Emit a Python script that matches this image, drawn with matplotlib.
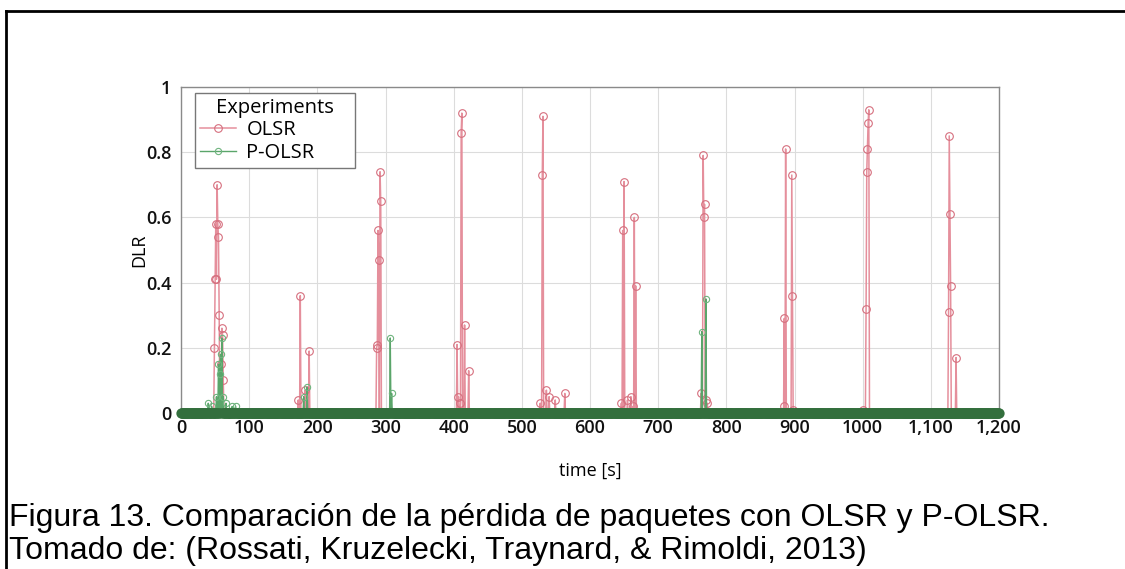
import numpy as np
import matplotlib
matplotlib.use("Agg")
import matplotlib.pyplot as plt
from matplotlib.lines import Line2D

# ---- data ----
xticks = [0, 100, 200, 300, 400, 500, 600, 700, 800, 900, 1000, 1100, 1200]
xticklabels = ["0", "100", "200", "300", "400", "500", "600", "700", "800",
               "900", "1000", "1,100", "1,200"]
yticks = [0, 0.2, 0.4, 0.6, 0.8, 1.0]
yticklabels = ["0", "0.2", "0.4", "0.6", "0.8", "1"]

# OLSR non-zero samples (time [s], DLR)
olsr_t = [49, 50, 51, 52, 53, 54, 55, 56, 58, 60, 61, 62,
          172, 175, 182, 188,
          287, 288, 289, 290, 292, 293,
          405, 407, 410, 411, 412, 416, 422,
          527, 530, 531, 536, 540, 549, 563,
          646, 648, 650, 655, 660, 663, 665, 667,
          763, 766, 767, 768, 770, 772,
          884, 885, 887, 896, 897, 898,
          1000, 1005, 1006, 1007, 1008, 1009,
          1126, 1127, 1128, 1129, 1137]
olsr_v = [0.20, 0.41, 0.58, 0.41, 0.70, 0.58, 0.54, 0.30, 0.15, 0.26, 0.24, 0.10,
          0.04, 0.36, 0.07, 0.19,
          0.20, 0.21, 0.56, 0.47, 0.74, 0.65,
          0.21, 0.05, 0.03, 0.86, 0.92, 0.27, 0.13,
          0.03, 0.73, 0.91, 0.07, 0.05, 0.04, 0.06,
          0.03, 0.56, 0.71, 0.04, 0.05, 0.02, 0.60, 0.39,
          0.06, 0.79, 0.60, 0.64, 0.04, 0.03,
          0.02, 0.29, 0.81, 0.73, 0.36, 0.01,
          0.01, 0.32, 0.74, 0.81, 0.89, 0.93,
          0.31, 0.85, 0.61, 0.39, 0.17]

# P-OLSR non-zero samples (time [s], DLR)
polsr_t = [40, 45, 52, 55, 57, 58, 60, 62, 66, 75, 80,
           180, 185,
           307, 309,
           764, 770]
polsr_v = [0.03, 0.02, 0.05, 0.15, 0.12, 0.18, 0.23, 0.05, 0.03, 0.02, 0.02,
           0.05, 0.08,
           0.23, 0.06,
           0.25, 0.35]

time_s = np.arange(0, 1201, 1)
olsr = np.zeros(time_s.size)
olsr[olsr_t] = olsr_v
polsr = np.zeros(time_s.size)
polsr[polsr_t] = polsr_v

# ---- figure ----
W, H = 1125, 569
fig = plt.figure(figsize=(W / 100, H / 100), dpi=100)
fig.patch.set_facecolor("white")

ax = fig.add_axes([181 / W, 1 - 413 / H, (999 - 181) / W, (413 - 87) / H])

red_line = "#e58f9c"
red_mark = "#d66f7e"
green_line = "#5aa56a"
green_mark = "#6fb47e"
band_green = "#336f3d"

ax.plot(time_s, olsr, "-", color=red_line, lw=1.1, marker="o", ms=5.5,
        mfc="none", mec=red_mark, mew=0.8, label="OLSR", zorder=3)
ax.plot(time_s, polsr, "-", color=green_line, lw=1.0, marker="o", ms=4.5,
        mfc="none", mec=green_mark, mew=0.8, label="P-OLSR", zorder=4)
zero = polsr == 0
ax.plot(time_s[zero], polsr[zero], "o", ms=6.0, mfc="none", mec=band_green,
        mew=1.4, zorder=5, clip_on=False)

ax.set_xlim(0, 1200)
ax.set_ylim(0, 1)
ax.set_xticks(xticks)
ax.set_xticklabels(xticklabels)
ax.set_yticks(yticks)
ax.set_yticklabels(yticklabels)
ax.grid(True, color="#dcdcdc", lw=0.8)
ax.set_axisbelow(True)
for s in ax.spines.values():
    s.set_color("#8a8a8a")
    s.set_linewidth(1.0)
ax.tick_params(axis="x", length=0, pad=4, labelsize=13, labelcolor="#111111")
ax.tick_params(axis="y", length=0, pad=7, labelsize=13, labelcolor="#111111")
for lab in ax.get_xticklabels() + ax.get_yticklabels():
    lab.set_fontfamily("Open Sans")
    lab.set_fontweight("semibold")

ax.set_xlabel("time [s]", fontsize=13, family="Open Sans")
ax.set_ylabel("DLR", fontsize=13, family="Open Sans")
ax.xaxis.set_label_coords(0.5, -0.15)
ax.yaxis.set_label_coords(-0.040, 0.5)

leg = ax.legend(title="Experiments", loc="upper left",
                bbox_to_anchor=(14 / 818, (413 - 173) / 326, 160 / 818, 80 / 326),
                mode="expand", fancybox=False,
                edgecolor="#777777", framealpha=1, fontsize=14.5,
                title_fontsize=14.5, handlelength=1.8, borderpad=0.25,
                labelspacing=0.12, handletextpad=0.5, borderaxespad=0.0)
for t in leg.get_texts():
    t.set_fontfamily("Open Sans")
leg.get_title().set_fontfamily("Open Sans")
leg.get_frame().set_linewidth(1.0)

# outer border (top and left)
fig.add_artist(Line2D([6 / W, 1.0], [1 - 11 / H, 1 - 11 / H],
                      transform=fig.transFigure, color="black", lw=2.0))
fig.add_artist(Line2D([6 / W, 6 / W], [1 - 11 / H, 0.0],
                      transform=fig.transFigure, color="black", lw=2.0))

# caption
fig.text(9 / W, 1 - 518 / H,
         "Figura 13. Comparación de la pérdida de paquetes con OLSR y P-OLSR.",
         fontsize=23, family="Liberation Sans", va="center", ha="left")
fig.text(9 / W, 1 - 551 / H,
         "Tomado de: (Rossati, Kruzelecki, Traynard, & Rimoldi, 2013)",
         fontsize=23, family="Liberation Sans", va="center", ha="left")

fig.savefig("out.png", dpi=100, facecolor="white")
